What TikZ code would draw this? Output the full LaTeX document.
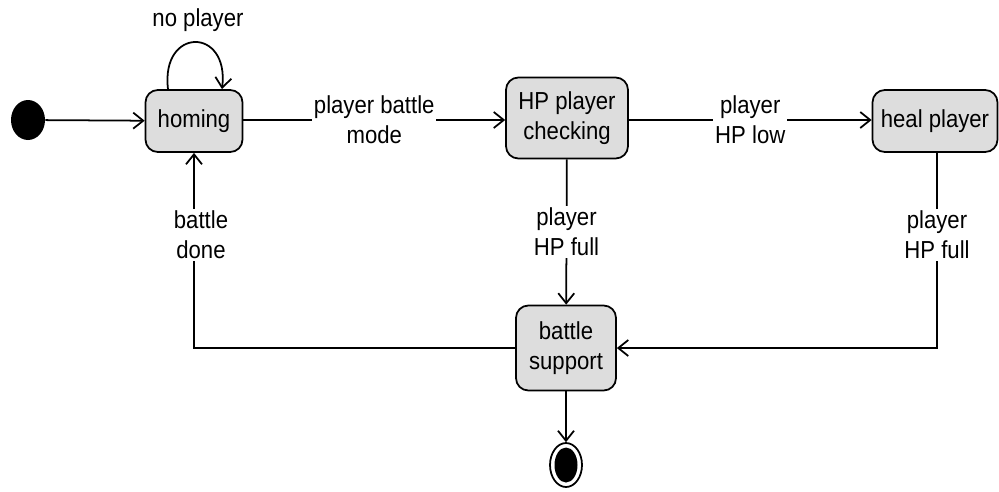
\documentclass[tikz,border=0pt]{standalone}
\usepackage{fontspec}
\setmainfont{Liberation Sans}[FakeStretch=0.9]
\usepackage{tikz}
\usetikzlibrary{shapes,arrows.meta,positioning,calc}
\definecolor{stategrey}{RGB}{221,221,221}

\begin{document}
\begin{tikzpicture}[
    x=0.02cm, y=-0.02cm,
    state/.style={rectangle, draw=black, fill=stategrey, rounded corners=7pt,
        align=center, font=\fontsize{14}{17}\selectfont, line width=1pt, inner sep=2pt},
    guard/.style={fill=white, align=center, font=\fontsize{14}{17}\selectfont, inner sep=1pt},
    >={Straight Barb[length=2mm, width=3.2mm]}
]
\useasboundingbox (0,0) rectangle (999,491);

% initial and final pseudo states
\node[ellipse, fill=black, minimum width=0.68cm, minimum height=0.8cm, inner sep=0pt] (init) at (28,120) {};
\node[ellipse, draw=black, line width=1pt, minimum width=0.64cm, minimum height=0.88cm, inner sep=0pt] (final) at (566,465) {};
\node[ellipse, fill=black, minimum width=0.46cm, minimum height=0.7cm, inner sep=0pt] (finaldot) at (final) {};

% states
\node[state, minimum width=1.94cm, minimum height=1.24cm] (homing) at (194,121) {homing};
\node[state, minimum width=2.44cm, minimum height=1.62cm] (check) at (567,118) {HP player\\checking};
\node[state, minimum width=2.5cm, minimum height=1.24cm] (heal) at (935,121) {heal player};
\node[state, minimum width=2.0cm, minimum height=1.7cm] (support) at (566,348) {battle\\support};

% transitions
\draw[->, line width=1pt] (init) -- (homing);
\draw[->, line width=1pt] ([xshift=-0.52cm]homing.north) .. controls +(-0.15cm,1.25cm) and +(0.15cm,1.25cm) .. ([xshift=0.56cm]homing.north);
\node[guard] (loop) at (198,20) {no player};
\draw[->, line width=1pt] (homing.east |- 0,120) -- node[guard] {player battle\\mode} (check.west |- 0,120);
\draw[->, line width=1pt] (check.east |- 0,120) -- node[guard] {player\\HP low} (heal.west |- 0,120);
\draw[->, line width=1pt] (check) -- node[guard] {player\\HP full} (support);
\draw[->, line width=1pt] (heal.south -| 937,0) |- node[guard, pos=0.21] {player\\HP full} (support.east);
\draw[->, line width=1pt] (support.west) -| node[guard, pos=0.79, xshift=0.14cm] {battle\\done} (homing.south);
\draw[->, line width=1pt] (support) -- (final);
\end{tikzpicture}
\end{document}
